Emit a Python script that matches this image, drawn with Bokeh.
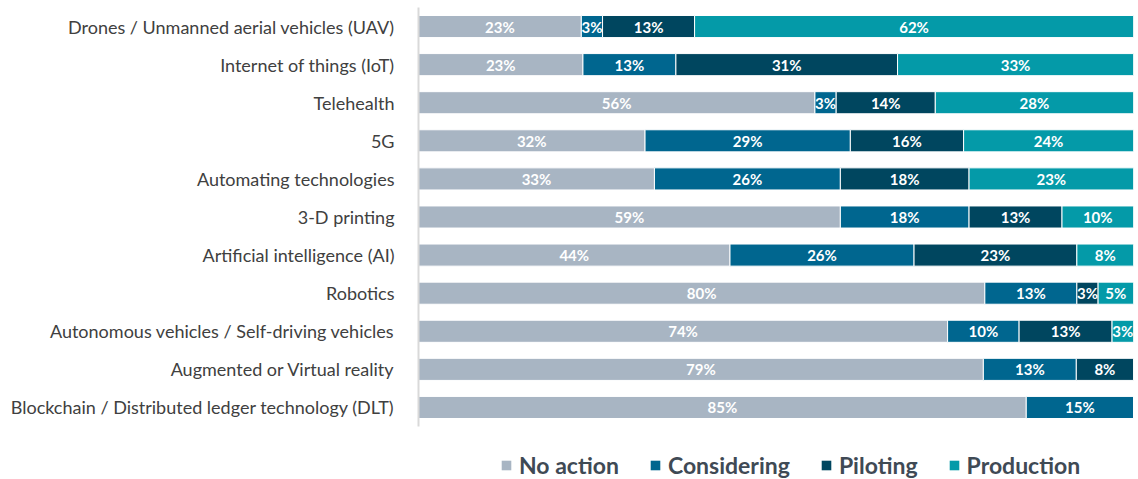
from bokeh.plotting import figure
from bokeh.models import ColumnDataSource, FactorRange, Legend, LegendItem
from bokeh.layouts import column
from bokeh.embed import file_html
from bokeh.resources import INLINE
from bokeh.core.properties import value

categories = [
    "Drones / Unmanned aerial vehicles (UAV)",
    "Internet of things (IoT)",
    "Telehealth",
    "5G",
    "Automating technologies",
    "3-D printing",
    "Artificial intelligence (AI)",
    "Robotics",
    "Autonomous vehicles / Self-driving vehicles",
    "Augmented or Virtual reality",
    "Blockchain / Distributed ledger technology (DLT)",
]
no_action = [23, 23, 56, 32, 33, 59, 44, 80, 74, 79, 85]
considering = [3, 13, 3, 29, 26, 18, 26, 13, 10, 13, 15]
piloting = [13, 31, 14, 16, 18, 13, 23, 3, 13, 8, 0]
production = [62, 33, 28, 24, 23, 10, 8, 5, 3, 0, 0]

series_names = ["No action", "Considering", "Piloting", "Production"]
series = [no_action, considering, piloting, production]
colors = ["#A8B5C3", "#00668F", "#00465F", "#049AA8"]

FONT = "Lato"

p = figure(
    width=1136, height=430,
    y_range=FactorRange(*list(reversed(categories)), range_padding=0),
    x_range=(0, 100),
    output_backend="svg", toolbar_location=None,
    min_border_left=418, min_border_right=3, min_border_top=7, min_border_bottom=4,
)

totals = [sum(s[i] for s in series) for i in range(len(categories))]

label_x, label_y, label_t = [], [], []
cum = [0.0] * len(categories)
for name, vals, col in zip(series_names, series, colors):
    left = [cum[i] for i in range(len(categories))]
    right = [cum[i] + vals[i] * 100.0 / totals[i] for i in range(len(categories))]
    src = ColumnDataSource(dict(y=categories, left=left, right=right))
    p.hbar(y="y", left="left", right="right", height=0.58, source=src,
           fill_color=col, line_color="white", line_width=1)
    for i in range(len(categories)):
        if vals[i] > 0:
            label_x.append((left[i] + right[i]) / 2)
            label_y.append(categories[i])
            label_t.append(f"{vals[i]}%")
    cum = right

lsrc = ColumnDataSource(dict(x=label_x, y=label_y, t=label_t))
p.text(x="x", y="y", text="t", source=lsrc, text_color="white",
       text_font=value(FONT), text_font_style="bold", text_font_size="15px",
       text_align="center", text_baseline="middle")

p.xaxis.visible = False
p.xgrid.visible = False
p.ygrid.visible = False
p.outline_line_color = None
p.yaxis.axis_line_color = "#D9D9D9"
p.yaxis.axis_line_width = 2
p.yaxis.major_tick_line_color = None
p.yaxis.minor_tick_line_color = None
p.yaxis.major_label_text_font = FONT
p.yaxis.major_label_text_font_size = "18px"
p.yaxis.major_label_text_color = "#404040"
p.yaxis.major_label_standoff = 18

# legend panel below the bars
lf = figure(
    width=1136, height=49, x_range=(0, 1), y_range=(0, 1),
    output_backend="svg", toolbar_location=None,
    min_border_left=0, min_border_right=0, min_border_top=0, min_border_bottom=0,
)
lf.axis.visible = False
lf.grid.visible = False
lf.outline_line_color = None
items = []
for name, col in zip(series_names, colors):
    r = lf.quad(left=[-10], right=[-9], bottom=[-10], top=[-9],
                fill_color=col, line_color=None)
    items.append(LegendItem(label=name, renderers=[r]))

legend = Legend(
    items=items,
    orientation="horizontal",
    location=(82, 0),
    label_text_font=FONT,
    label_text_font_size="23px",
    label_text_font_style="bold",
    label_text_color="#3F4A55",
    glyph_width=12, glyph_height=12,
    spacing=30, label_standoff=7,
    border_line_color=None,
    background_fill_alpha=0,
    margin=0, padding=0,
)
lf.add_layout(legend)

layout = column(p, lf, spacing=0)
open("out.html", "w").write(file_html(layout, INLINE))
